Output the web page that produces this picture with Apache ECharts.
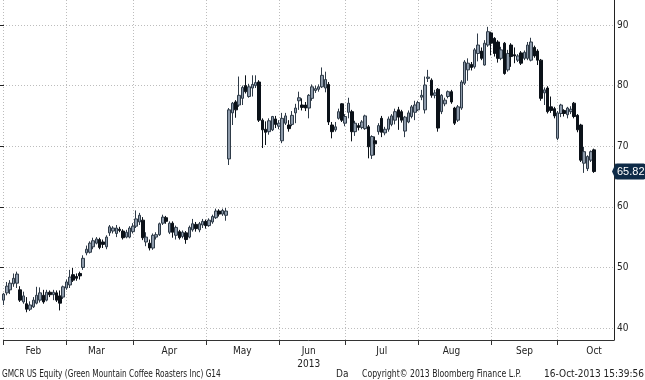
<!DOCTYPE html>
<html><head><meta charset="utf-8">
<script src="https://cdn.jsdelivr.net/npm/echarts@6/dist/echarts.min.js"></script>
<style>html,body{margin:0;padding:0;background:#fff}#c{width:645px;height:380px}</style>
</head><body><div id="c"></div><script>
const dates = [
'2013-02-01','2013-02-04','2013-02-05','2013-02-06','2013-02-07','2013-02-08','2013-02-11','2013-02-12','2013-02-13','2013-02-14','2013-02-15','2013-02-19','2013-02-20','2013-02-21','2013-02-22','2013-02-25','2013-02-26','2013-02-27','2013-02-28',
'2013-03-01','2013-03-04','2013-03-05','2013-03-06','2013-03-07','2013-03-08','2013-03-11','2013-03-12','2013-03-13','2013-03-14','2013-03-15','2013-03-18','2013-03-19','2013-03-20','2013-03-21','2013-03-22','2013-03-25','2013-03-26','2013-03-27','2013-03-28',
'2013-04-01','2013-04-02','2013-04-03','2013-04-04','2013-04-05','2013-04-08','2013-04-09','2013-04-10','2013-04-11','2013-04-12','2013-04-15','2013-04-16','2013-04-17','2013-04-18','2013-04-19','2013-04-22','2013-04-23','2013-04-24','2013-04-25','2013-04-26','2013-04-29','2013-04-30',
'2013-05-01','2013-05-02','2013-05-03','2013-05-06','2013-05-07','2013-05-08','2013-05-09','2013-05-10','2013-05-13','2013-05-14','2013-05-15','2013-05-16','2013-05-17','2013-05-20','2013-05-21','2013-05-22','2013-05-23','2013-05-24','2013-05-28','2013-05-29','2013-05-30','2013-05-31',
'2013-06-03','2013-06-04','2013-06-05','2013-06-06','2013-06-07','2013-06-10','2013-06-11','2013-06-12','2013-06-13','2013-06-14','2013-06-17','2013-06-18','2013-06-19','2013-06-20','2013-06-21','2013-06-24','2013-06-25','2013-06-26','2013-06-27','2013-06-28',
'2013-07-01','2013-07-02','2013-07-03','2013-07-05','2013-07-08','2013-07-09','2013-07-10','2013-07-11','2013-07-12','2013-07-15','2013-07-16','2013-07-17','2013-07-18','2013-07-19','2013-07-22','2013-07-23','2013-07-24','2013-07-25','2013-07-26','2013-07-29','2013-07-30','2013-07-31',
'2013-08-01','2013-08-02','2013-08-05','2013-08-06','2013-08-07','2013-08-08','2013-08-09','2013-08-12','2013-08-13','2013-08-14','2013-08-15','2013-08-16','2013-08-19','2013-08-20','2013-08-21','2013-08-22','2013-08-23','2013-08-26','2013-08-27','2013-08-28','2013-08-29','2013-08-30',
'2013-09-03','2013-09-04','2013-09-05','2013-09-06','2013-09-09','2013-09-10','2013-09-11','2013-09-12','2013-09-13','2013-09-16','2013-09-17','2013-09-18','2013-09-19','2013-09-20','2013-09-23','2013-09-24','2013-09-25','2013-09-26','2013-09-27','2013-09-30',
'2013-10-01','2013-10-02','2013-10-03','2013-10-04','2013-10-07','2013-10-08','2013-10-09','2013-10-10','2013-10-11','2013-10-14','2013-10-15','2013-10-16'];
const futureDates = ['2013-10-17','2013-10-18','2013-10-21','2013-10-22','2013-10-23','2013-10-24'];

const open = [
44.6,45.8,46.3,47.3,47.4,46.3,44.3,44.0,43.1,43.5,44.1,44.6,45.4,44.6,45.9,45.5,45.8,45.3,45.1,
46.6,47.1,48.8,48.5,49.0,50.0,52.4,52.5,53.4,54.0,54.6,54.2,53.4,55.7,56.0,55.6,56.3,56.0,55.0,55.0,
55.9,56.8,57.5,57.8,54.2,54.0,53.2,55.0,55.4,57.3,58.2,55.8,57.3,55.3,55.9,55.1,55.7,55.0,56.2,57.1,56.2,57.0,
57.6,56.9,57.5,58.2,59.3,58.8,58.6,67.9,75.5,77.3,76.8,77.9,80.0,78.2,79.6,80.0,80.6,74.3,72.8,72.4,72.7,74.5,
73.3,70.9,73.8,73.5,73.6,75.5,77.5,76.8,76.8,76.3,77.9,79.2,79.4,79.8,79.6,80.2,73.5,72.7,74.6,77.0,
73.8,75.6,75.7,72.4,73.4,73.1,72.9,73.2,68.5,70.9,72.4,74.6,72.2,72.8,73.6,74.3,76.0,75.7,72.5,74.0,74.9,75.6,
76.0,78.1,76.0,81.2,80.9,78.4,79.4,75.7,77.0,78.2,79.0,76.3,74.3,76.3,80.4,82.6,83.5,83.1,85.3,85.7,83.4,86.7,
88.7,87.8,87.2,84.5,87.0,82.6,86.7,85.1,84.2,85.4,84.5,84.5,84.2,86.3,85.7,84.2,78.8,79.6,76.5,76.2,
71.3,75.4,75.9,75.2,75.7,77.1,75.1,73.5,67.2,66.3,67.7,69.4];
const close = [
45.6,46.9,47.4,48.2,48.9,44.6,45.3,43.1,43.8,44.6,45.4,45.8,44.3,45.9,45.5,45.9,44.6,44.1,46.8,
47.6,48.4,47.9,48.2,48.6,51.5,53.0,54.0,54.4,54.7,53.3,53.8,55.0,56.7,56.5,56.5,56.1,54.9,55.8,56.5,
56.8,58.0,58.6,54.9,55.0,53.2,55.3,55.4,57.2,58.3,57.6,57.3,55.8,56.6,54.9,55.8,54.6,56.6,57.2,56.4,57.2,57.6,
56.9,57.8,58.4,59.3,58.8,59.4,59.3,76.0,77.1,76.0,78.4,79.7,79.0,79.8,80.2,80.5,74.3,72.7,72.3,74.2,74.9,73.6,
73.8,74.6,75.0,72.9,75.1,76.3,78.0,76.4,76.3,78.4,79.8,79.5,79.8,81.7,81.0,74.0,72.4,73.2,75.7,74.3,
74.9,77.1,72.4,73.8,73.1,74.0,75.0,69.9,71.6,70.4,73.4,72.3,72.8,74.5,75.0,75.7,74.8,74.3,74.8,75.5,76.5,76.8,
77.2,78.4,80.1,81.4,78.4,78.8,73.0,78.4,77.6,79.0,77.3,73.8,76.5,80.6,83.9,83.7,83.0,85.9,86.7,84.5,87.0,88.9,
87.0,85.3,84.5,85.9,82.0,85.3,84.8,84.9,84.9,83.7,85.5,86.7,87.2,84.9,84.2,77.9,79.3,75.7,75.9,75.0,
75.5,76.8,75.4,76.3,76.1,74.9,72.7,67.7,69.1,68.3,69.1,65.82];
const low = [
43.8,45.4,45.6,46.8,46.6,44.3,44.0,42.6,42.8,43.3,43.9,44.2,44.0,44.4,45.1,44.6,44.3,42.9,44.8,
46.3,46.6,47.6,47.8,48.0,49.6,52.0,52.3,53.0,53.8,53.0,53.2,53.0,55.2,55.6,55.0,55.8,54.6,54.8,54.8,
55.6,56.5,57.0,54.5,53.5,52.8,52.9,54.6,55.2,57.0,57.2,55.5,54.9,54.6,54.6,54.8,53.9,54.8,55.9,55.9,55.8,56.5,
56.4,56.7,57.2,58.0,58.4,58.5,57.7,66.9,73.5,74.7,76.5,76.8,78.7,78.0,78.2,79.6,74.0,69.7,70.2,71.9,72.5,73.0,
72.8,70.5,73.5,72.4,73.3,73.8,76.0,75.9,75.8,74.6,77.5,78.8,79.0,79.6,78.9,73.5,71.3,72.4,74.4,74.0,
73.3,74.6,70.8,71.7,72.6,72.8,72.7,68.0,67.9,68.5,71.9,71.5,71.8,72.4,73.3,73.6,72.7,73.9,71.5,73.8,74.6,74.3,
75.8,77.6,75.4,80.6,78.0,77.9,72.4,75.3,76.6,77.9,77.0,73.5,74.0,76.0,80.1,80.8,82.5,82.8,84.0,84.2,83.3,86.4,
85.0,84.8,83.8,84.2,81.8,82.3,83.1,83.7,83.9,83.4,84.2,84.2,84.0,84.6,83.4,77.5,76.8,75.4,75.5,74.6,
71.0,74.8,74.9,74.6,75.3,74.6,72.3,67.4,65.6,65.9,67.4,65.6];
const high = [
45.8,47.6,47.9,49.0,49.3,46.9,46.0,45.1,44.4,45.1,46.8,46.7,46.3,46.3,46.2,46.3,46.2,46.2,47.0,
48.0,49.6,49.9,49.0,49.3,52.0,53.6,54.3,54.9,55.0,54.9,54.6,55.3,57.0,56.8,57.0,56.7,56.3,56.2,56.8,
57.3,59.4,59.0,58.3,55.8,54.6,55.6,55.8,57.4,58.7,58.5,57.6,57.6,56.9,56.2,56.1,56.0,56.9,58.0,57.5,57.5,58.0,
57.9,58.1,58.7,59.7,59.6,59.7,59.8,76.3,77.3,77.6,81.5,80.0,81.7,80.3,81.7,81.7,80.9,74.6,74.1,74.6,75.0,75.0,
74.3,75.5,75.5,74.3,75.8,77.0,79.0,77.9,77.3,78.6,80.2,80.0,80.2,83.0,82.3,80.6,74.0,74.0,76.2,77.1,
75.3,78.0,76.0,74.2,73.8,74.3,75.2,73.5,71.8,71.6,73.8,75.0,73.2,74.9,75.3,76.2,76.5,76.0,75.0,75.9,76.8,77.5,
77.5,79.3,81.5,82.6,81.2,79.3,79.6,78.6,78.0,79.2,79.3,76.5,76.8,80.9,84.2,84.5,83.9,86.2,88.6,86.3,87.5,89.7,
88.9,88.0,87.5,86.4,87.2,85.9,87.0,86.3,85.2,85.7,85.8,87.2,87.9,86.6,86.0,84.4,79.7,79.9,78.2,76.5,
75.8,77.0,76.1,76.5,76.6,77.3,75.3,73.7,69.9,68.5,69.3,69.6];

const monthStartDates = ['2013-02-01','2013-03-01','2013-04-01','2013-05-01','2013-06-03','2013-07-01','2013-08-01','2013-09-03','2013-10-01'];
const monthNames = ['Feb','Mar','Apr','May','Jun','Jul','Aug','Sep','Oct'];
const monthLabelDates = ['2013-02-14','2013-03-14','2013-04-16','2013-05-16','2013-06-14','2013-07-17','2013-08-15','2013-09-17','2013-10-16'];
const yearLabel = '2013';
const yearUnderMonth = 'Jun';
const lastPrice = 65.82;
const footerLeft = 'GMCR US Equity (Green Mountain Coffee Roasters Inc) G14';
const footerMid = 'Da';
const footerCopy = 'Copyright\u00A9 2013 Bloomberg Finance L.P.';
const footerTime = '16-Oct-2013 15:39:56';

const FONT = '"DejaVu Sans Condensed","Liberation Sans",sans-serif';
const NAVY = '#0e2b48';
const categories = dates.concat(futureDates);
const candles = open.map((o, i) => [o, close[i], low[i], high[i]]);
const isMonthStart = (i, v) => monthStartDates.indexOf(v) >= 0;

const chart = echarts.init(document.getElementById('c'), null, {renderer: 'canvas'});
chart.setOption({
  animation: false,
  backgroundColor: '#ffffff',
  textStyle: {fontFamily: FONT},
  grid: [
    {left: 3.5, right: 31, top: 0, height: 340},
    {left: 0, right: 31, top: 25, height: 303},
    {left: 0, right: 31, top: 25, height: 303}
  ],
  xAxis: [
    {
      type: 'category', gridIndex: 0, data: categories, boundaryGap: false,
      axisLine: {show: true, lineStyle: {color: '#333', width: 1}},
      axisTick: {show: true, interval: isMonthStart, length: 5, lineStyle: {color: '#333'}},
      splitLine: {show: true, interval: isMonthStart, lineStyle: {color: '#bdbdbd', type: [1, 2]}},
      axisLabel: {
        show: true, interval: (i, v) => monthLabelDates.indexOf(v) >= 0,
        formatter: v => {
          const k = monthLabelDates.indexOf(v);
          const n = monthNames[k];
          return n === yearUnderMonth ? n + '\n' + yearLabel : n;
        },
        fontSize: 10, color: '#222', margin: 5, lineHeight: 13, fontFamily: FONT
      }
    },
    {type: 'value', gridIndex: 1, show: false, min: 0, max: 1},
    {type: 'value', gridIndex: 2, show: false, min: 0, max: 1}
  ],
  yAxis: [
    {
      type: 'value', gridIndex: 0, position: 'right', min: 38.02, max: 94.13,
      axisLine: {show: true, lineStyle: {color: '#222', width: 1}},
      axisTick: {show: false}, axisLabel: {show: false}, splitLine: {show: false}
    },
    {
      type: 'value', gridIndex: 1, position: 'right', min: 40, max: 90, interval: 10,
      axisLine: {show: false},
      axisTick: {show: true, length: 4, lineStyle: {color: '#222'}},
      axisLabel: {show: true, fontSize: 10, color: '#222', margin: 3, fontFamily: FONT},
      splitLine: {show: true, lineStyle: {color: '#bdbdbd', type: [1, 2]}}
    },
    {
      type: 'value', gridIndex: 2, position: 'right', min: 40, max: 90, interval: 5,
      axisLine: {show: false},
      axisTick: {show: true, length: 2, inside: true, lineStyle: {color: '#222'}},
      axisLabel: {show: false}, splitLine: {show: false}
    }
  ],
  series: [{
    type: 'candlestick', xAxisIndex: 0, yAxisIndex: 0,
    data: candles, barWidth: 3, clip: false,
    itemStyle: {color: '#8e9bab', color0: '#0b1118', borderColor: '#2f3b48', borderColor0: '#0b1118', borderWidth: 1},
    markLine: {
      silent: true,
      symbol: ['none', 'path://M0,0 L10,0 L5,10 Z'],
      symbolSize: [17, 4],
      data: [{yAxis: lastPrice}],
      lineStyle: {color: NAVY, width: 0.001, type: 'solid'},
      label: {
        show: true, position: 'end', distance: 1,
        formatter: () => lastPrice.toFixed(2),
        backgroundColor: NAVY, color: '#fff', fontSize: 11, fontFamily: '"Liberation Sans",sans-serif',
        padding: [3, 1, 2, 2], borderRadius: 2
      }
    }
  }],
  graphic: [
    {type: 'text', left: 2, top: 369, scaleX: 0.82, style: {text: footerLeft, font: '10px ' + FONT, fill: '#222'}},
    {type: 'text', left: 336, top: 369, style: {text: footerMid, font: '10px ' + FONT, fill: '#222'}},
    {type: 'text', left: 362, top: 369, scaleX: 0.86, style: {text: footerCopy, font: '10px ' + FONT, fill: '#222'}},
    {type: 'text', right: 1, top: 369, style: {text: footerTime, font: '10px ' + FONT, fill: '#222'}}
  ]
});
</script></body></html>
